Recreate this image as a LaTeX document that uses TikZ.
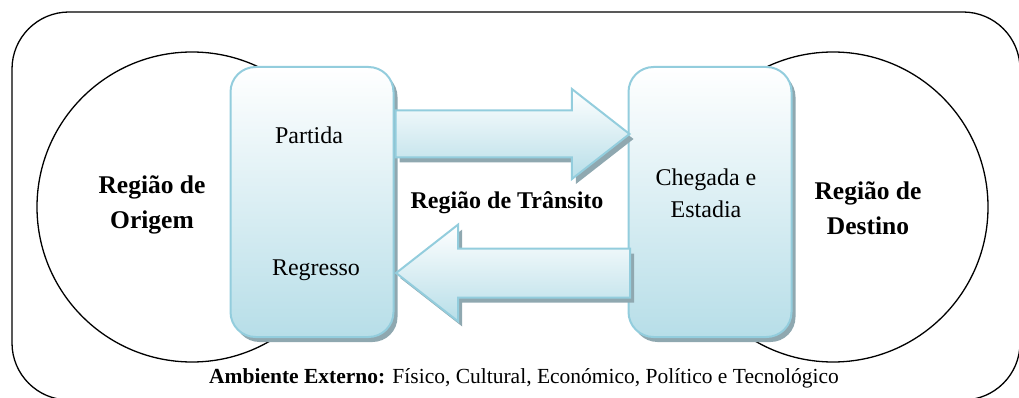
\documentclass[tikz,border=0pt]{standalone}
\usepackage{fontspec}
\setmainfont{Liberation Serif}
\usetikzlibrary{shapes.arrows,shadows,calc}

\definecolor{stageline}{RGB}{147,205,221}
\definecolor{stagefill}{RGB}{183,222,232}
\definecolor{stageshadow}{RGB}{143,168,176}

\begin{document}
\begin{tikzpicture}[x=1pt,y=-1pt,
    region/.style={draw,circle,line width=1.3pt,minimum size=310pt},
    stage/.style={draw=stageline,line width=2pt,rounded corners=25pt,top color=white,bottom color=stagefill,
        minimum width=163pt,minimum height=270pt,
        drop shadow={shadow xshift=4pt,shadow yshift=-5pt,fill=stageshadow,opacity=1}},
    flow/.style={single arrow,draw=stageline,line width=2pt,top color=white,bottom color=stagefill,
        inner xsep=0pt,minimum height=234pt,single arrow tip angle=76,single arrow head indent=0pt,
        drop shadow={shadow xshift=4pt,shadow yshift=-5pt,fill=stageshadow,opacity=1}},
    label/.style={font=\fontsize{24}{32}\selectfont,align=center},
    title/.style={font=\fontsize{25.5}{35}\selectfont\bfseries,align=center}]
  \useasboundingbox (0,0) rectangle (1019,398);
  \clip (0,0) rectangle (1019,398);

  % ambiente externo
  \node[draw,line width=1.3pt,rounded corners=57pt,minimum width=1008pt,minimum height=388pt] (env) at (516,206) {};

  % regioes
  \node[region] (origem) at (192,207) {};
  \node[region] (destino) at (833,207) {};

  % partida / chegada
  \node[stage] (lbox) at (312,202) {};
  \node[stage] (rbox) at (710,202) {};

  % fluxos
  \node[flow,inner ysep=22.5pt,single arrow head extend=21.5pt,anchor=tail] (ida) at ($(lbox.east)+(0,-68)$) {};
  \node[flow,inner ysep=23.5pt,single arrow head extend=24pt,shape border rotate=180,anchor=tip] (volta) at ($(lbox.east)+(0,71)$) {};

  % textos
  \node[title] (torig) at (152,205) {Região de\\Origem};
  \node[title] (tdest) at (868,208) {Região de\\Destino};
  \node[label,anchor=base] (tpart) at (309,144) {Partida};
  \node[label,anchor=base] (tregr) at (316,275) {Regresso};
  \node[label] (tcheg) at (706,193) {Chegada e\\Estadia};
  \node[label,anchor=base,font=\fontsize{24}{32}\selectfont\bfseries] (ttrans) at (507,208) {Região de Trânsito};
  \node[anchor=base,font=\fontsize{21.5}{26}\selectfont] (tamb) at (524,383)
    {\textbf{Ambiente Externo:} Físico, Cultural, Económico, Político e Tecnológico};
\end{tikzpicture}
\end{document}
